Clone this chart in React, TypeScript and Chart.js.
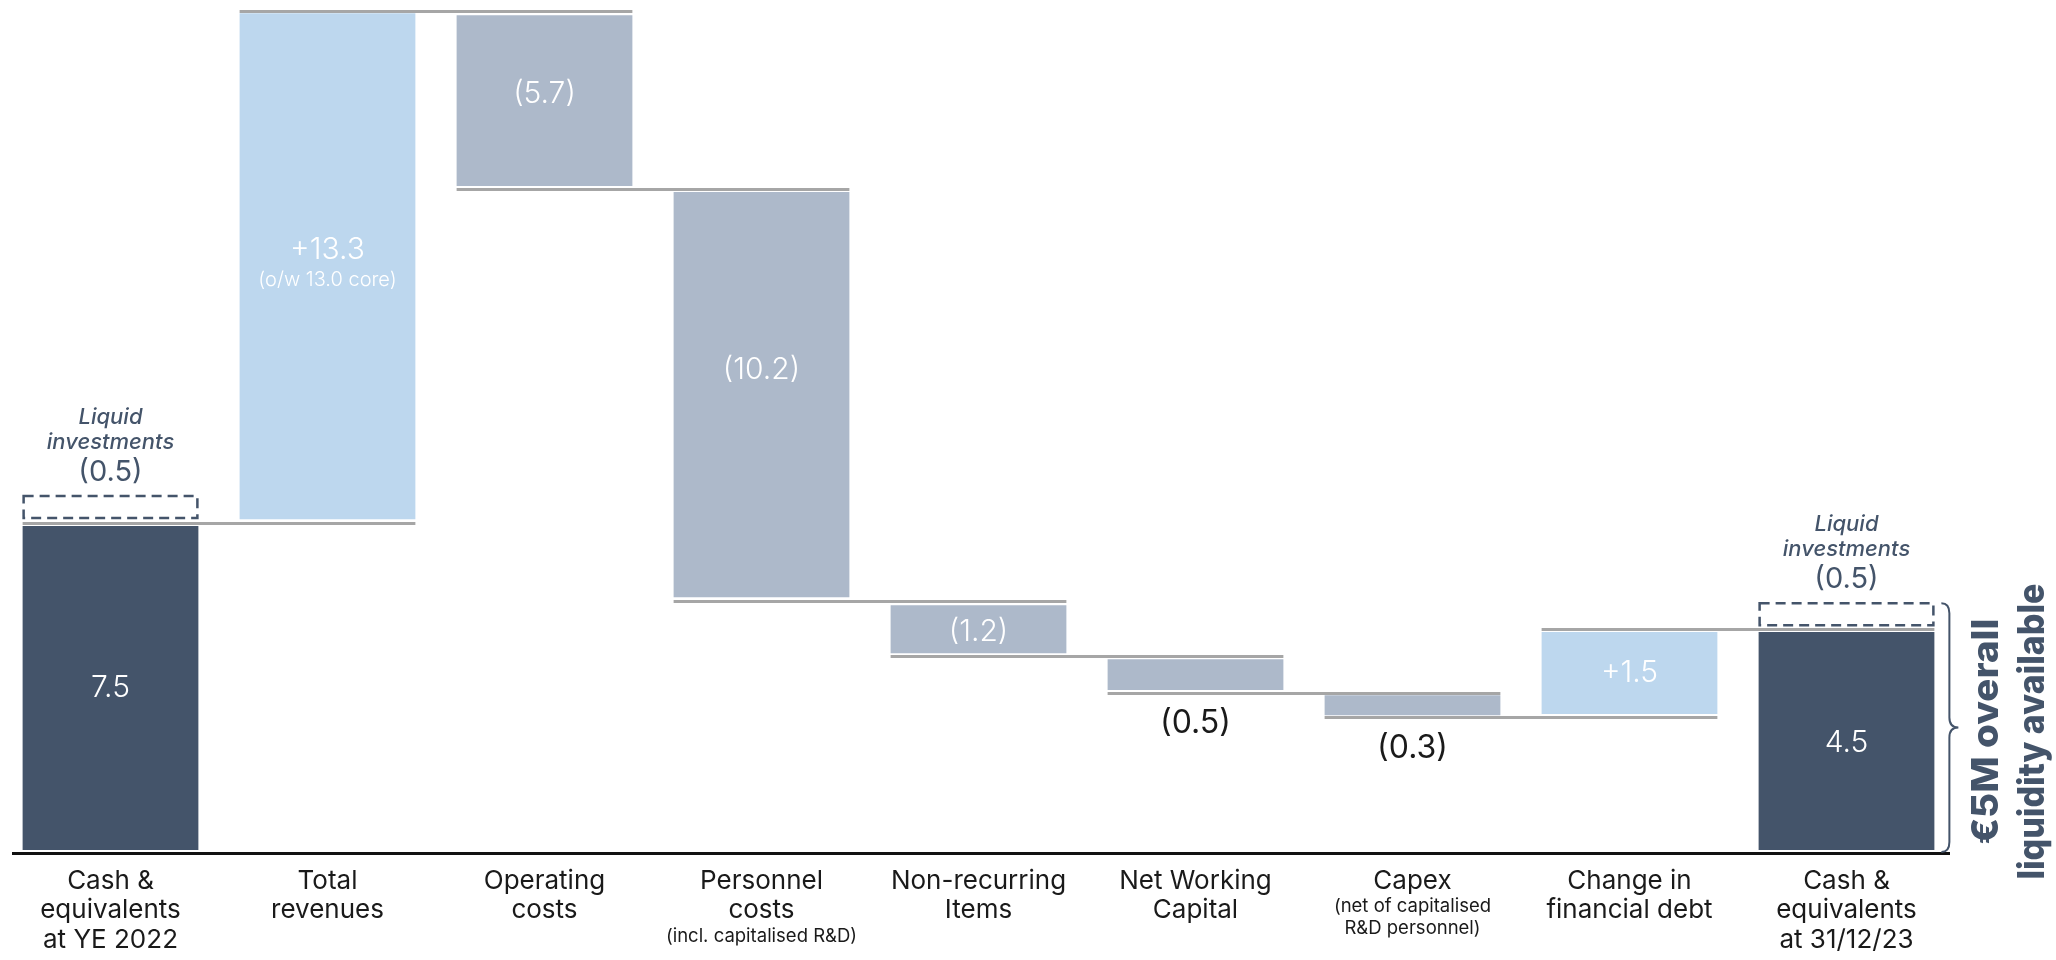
import React, { useEffect, useRef } from "react";
import { Chart, registerables } from "chart.js";

Chart.register(...registerables);

// ---------- data ----------
const categories: string[][] = [
  ["Cash &", "equivalents", "at YE 2022"],
  ["Total", "revenues"],
  ["Operating", "costs"],
  ["Personnel", "costs"],
  ["Non-recurring", "Items"],
  ["Net Working", "Capital"],
  ["Capex"],
  ["Change in", "financial debt"],
  ["Cash &", "equivalents", "at 31/12/23"],
];
const categoryNotes: string[][] = [
  [],
  [],
  [],
  ["(incl. capitalised R&D)"],
  [],
  [],
  ["(net of capitalised", "R&D personnel)"],
  [],
  [],
];

// floating bar extents as drawn in the picture (€M display units)
const barLow = [0, 8.27, 16.6, 6.32, 4.92, 4.0, 3.37, 3.4, 0];
const barHigh = [8.1, 20.92, 20.87, 16.45, 6.12, 4.77, 3.87, 5.45, 5.45];
const barKinds = ["total", "up", "down", "down", "down", "down", "down", "up", "total"];

const valueLabels = ["7.5", "+13.3", "(5.7)", "(10.2)", "(1.2)", "(0.5)", "(0.3)", "+1.5", "4.5"];
const valueSubLabels = ["", "(o/w 13.0 core)", "", "", "", "", "", "", ""];
const labelInside = [true, true, true, true, true, false, false, true, true];
// where the label sits inside its bar (0 = bottom, 1 = top)
const labelAnchor = [0.5, 0.5, 0.54, 0.56, 0.45, 0, 0, 0.5, 0.49];

// connector levels between bar i and bar i+1
const connectorLevels = [8.17, 20.97, 16.52, 6.22, 4.85, 3.92, 3.32, 5.52];

// liquid investments (dashed boxes)
const liquidIndex = [0, 8];
const liquidLow = [8.3, 5.62];
const liquidHigh = [8.85, 6.17];
const liquidTitle = ["Liquid", "investments"];
const liquidValue = "(0.5)";

const sideNote = ["€5M overall", "liquidity available"];

// ---------- styles ----------
const COLORS: Record<string, string> = {
  total: "#44546A",
  up: "#BDD7EE",
  down: "#ADB9CA",
};
const SLATE = "#44546A";
const FONT = "Inter, 'Open Sans', sans-serif";
const SIDE_WIDTHS = [226, 296];

const overlay = {
  id: "waterfallOverlay",
  afterDatasetsDraw(chart: any) {
    const ctx: CanvasRenderingContext2D = chart.ctx;
    const meta = chart.getDatasetMeta(0);
    const y = chart.scales.y;
    const area = chart.chartArea;
    const bars = meta.data;
    const left = (b: any) => b.x - b.width / 2;
    const right = (b: any) => b.x + b.width / 2;

    ctx.save();

    // connectors
    ctx.strokeStyle = "#A6A6A6";
    ctx.lineWidth = 3;
    connectorLevels.forEach((lv, i) => {
      const a = bars[i];
      const b = bars[i + 1];
      const py = Math.round(y.getPixelForValue(lv)) + 0.5;
      ctx.beginPath();
      ctx.moveTo(left(a), py);
      ctx.lineTo(right(b), py);
      ctx.stroke();
    });

    // value labels
    bars.forEach((b: any, i: number) => {
      const top = y.getPixelForValue(barHigh[i]);
      const bottom = y.getPixelForValue(barLow[i]);
      ctx.textAlign = "center";
      ctx.textBaseline = "middle";
      if (labelInside[i]) {
        ctx.fillStyle = "#FFFFFF";
        const mid = bottom + (top - bottom) * labelAnchor[i];
        if (valueSubLabels[i]) {
          ctx.font = `300 30px ${FONT}`;
          ctx.fillText(valueLabels[i], b.x, mid - 16);
          ctx.font = `300 20px ${FONT}`;
          ctx.fillText(valueSubLabels[i], b.x, mid + 14);
        } else {
          ctx.font = `300 30px ${FONT}`;
          ctx.fillText(valueLabels[i], b.x, mid);
        }
      } else {
        ctx.fillStyle = "#1A1A1A";
        ctx.font = `400 32px ${FONT}`;
        ctx.fillText(valueLabels[i], b.x, bottom + 33);
      }
    });

    // liquid investments dashed boxes
    liquidIndex.forEach((idx, k) => {
      const b = bars[idx];
      const t = y.getPixelForValue(liquidHigh[k]);
      const btm = y.getPixelForValue(liquidLow[k]);
      ctx.setLineDash([10, 6]);
      ctx.strokeStyle = SLATE;
      ctx.lineWidth = 2.5;
      ctx.strokeRect(left(b) + 1, t, b.width - 2, btm - t);
      ctx.setLineDash([]);
      ctx.fillStyle = SLATE;
      ctx.textAlign = "center";
      ctx.textBaseline = "middle";
      ctx.font = `italic 500 22px ${FONT}`;
      ctx.fillText(liquidTitle[0], b.x, t - 79);
      ctx.fillText(liquidTitle[1], b.x, t - 54);
      ctx.font = `400 29px ${FONT}`;
      ctx.fillText(liquidValue, b.x, t - 24);
    });

    // x axis line
    ctx.strokeStyle = "#111111";
    ctx.lineWidth = 3;
    ctx.beginPath();
    ctx.moveTo(area.left + 10, area.bottom + 3.5);
    ctx.lineTo(area.right - 5, area.bottom + 3.5);
    ctx.stroke();

    // category labels
    bars.forEach((b: any, i: number) => {
      ctx.fillStyle = "#1A1A1A";
      ctx.textAlign = "center";
      ctx.textBaseline = "middle";
      ctx.font = `400 26px ${FONT}`;
      let ly = area.bottom + 31;
      categories[i].forEach((line) => {
        ctx.fillText(line, b.x, ly);
        ly += 29.5;
      });
      if (categoryNotes[i].length) {
        ctx.font = `400 18.5px ${FONT}`;
        ly -= 4;
        categoryNotes[i].forEach((line) => {
          ctx.fillText(line, b.x, ly);
          ly += 22;
        });
      }
    });

    // brace next to the last bar
    const last = bars[bars.length - 1];
    const bx0 = right(last) + 7;
    const bx1 = right(last) + 15;
    const tip = right(last) + 24;
    const bTop = y.getPixelForValue(liquidHigh[1]);
    const bBot = area.bottom + 2;
    const bMid = (bTop + bBot) / 2;
    ctx.strokeStyle = SLATE;
    ctx.lineWidth = 2;
    ctx.beginPath();
    ctx.moveTo(bx0, bTop);
    ctx.quadraticCurveTo(bx1, bTop, bx1, bTop + 10);
    ctx.lineTo(bx1, bMid - 10);
    ctx.quadraticCurveTo(bx1, bMid, tip, bMid);
    ctx.quadraticCurveTo(bx1, bMid, bx1, bMid + 10);
    ctx.lineTo(bx1, bBot - 10);
    ctx.quadraticCurveTo(bx1, bBot, bx0, bBot);
    ctx.stroke();

    // rotated side note, each line fitted to its width in the reference
    ctx.save();
    ctx.translate(area.right + 55, bMid + 4);
    ctx.rotate(-Math.PI / 2);
    ctx.fillStyle = SLATE;
    ctx.textAlign = "center";
    ctx.textBaseline = "middle";
    ctx.font = `800 37px ${FONT}`;
    sideNote.forEach((line, k) => {
      const w = ctx.measureText(line).width;
      const sx = SIDE_WIDTHS[k] / w;
      ctx.save();
      ctx.translate(0, k === 0 ? -23 : 23);
      ctx.scale(sx, 1);
      ctx.fillText(line, 0, 0);
      ctx.restore();
    });
    ctx.restore();

    ctx.restore();
  },
};

export default function App() {
  const ref = useRef<HTMLCanvasElement | null>(null);

  useEffect(() => {
    document.body.style.margin = "0";
    const canvas = ref.current;
    if (!canvas) return;
    const chart = new Chart(canvas, {
      type: "bar",
      data: {
        labels: categories.map((c) => c.join(" ")),
        datasets: [
          {
            data: barLow.map((lo, i) => [lo, barHigh[i]]) as any,
            backgroundColor: barKinds.map((k) => COLORS[k]),
            borderWidth: 0,
            barPercentage: 0.81,
            categoryPercentage: 1,
          },
        ],
      },
      options: {
        responsive: false,
        animation: false,
        devicePixelRatio: 1,
        layout: { padding: { top: 10, bottom: 110, left: 2, right: 101 } },
        plugins: { legend: { display: false }, tooltip: { enabled: false } },
        scales: {
          x: { display: false },
          y: { display: false, min: 0, max: 21 },
        },
      },
      plugins: [overlay],
    });
    return () => chart.destroy();
  }, []);

  return (
    <canvas
      ref={ref}
      width={2056}
      height={960}
      style={{ display: "block", width: 2056, height: 960 }}
    />
  );
}
